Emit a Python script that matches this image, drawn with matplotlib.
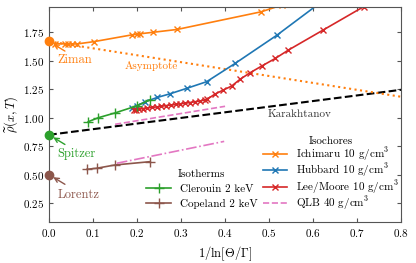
import numpy as np
import matplotlib; matplotlib.use("Agg")
import matplotlib.pyplot as plt

plt.rcParams.update({
    'font.family': 'serif', 'font.serif': ['cmr10'], 'mathtext.fontset': 'cm',
    'axes.formatter.use_mathtext': True, 'font.size': 8,
    'xtick.direction': 'in', 'ytick.direction': 'in', 'xtick.top': True, 'ytick.right': True,
    'axes.edgecolor': '#555555', 'xtick.color': '#555555', 'ytick.color': '#555555',
    'xtick.labelcolor': 'black', 'ytick.labelcolor': 'black',
})

# isochores, 10 g/cm^3
ichimaru_x = [0.014, 0.036, 0.043, 0.052, 0.064, 0.102, 0.189, 0.200, 0.207, 0.236, 0.291, 0.482, 0.53]
ichimaru_y = [1.650, 1.648, 1.648, 1.647, 1.648, 1.668, 1.728, 1.733, 1.737, 1.750, 1.775, 1.930, 1.99]
hubbard_x = [0.188, 0.200, 0.218, 0.246, 0.275, 0.313, 0.358, 0.423, 0.518, 0.62]
hubbard_y = [1.085, 1.105, 1.140, 1.178, 1.210, 1.258, 1.316, 1.477, 1.725, 2.02]
lee_x = [0.192, 0.197, 0.204, 0.213, 0.222, 0.234, 0.245, 0.254, 0.266, 0.277, 0.289,
         0.298, 0.309, 0.320, 0.332, 0.343, 0.354, 0.360, 0.377, 0.396, 0.415, 0.434,
         0.457, 0.483, 0.514, 0.544, 0.623, 0.715]
lee_y = [1.068, 1.072, 1.076, 1.080, 1.085, 1.090, 1.095, 1.100, 1.106, 1.111, 1.117,
         1.122, 1.127, 1.133, 1.140, 1.147, 1.156, 1.164, 1.207, 1.243, 1.278, 1.337,
         1.395, 1.453, 1.520, 1.594, 1.770, 1.975]
qlb40_x = [0.15, 0.40]
qlb40_y = [0.942, 1.100]

# isotherms, 2 keV
clerouin_x = [0.089, 0.112, 0.150, 0.200, 0.230]
clerouin_y = [0.965, 1.000, 1.042, 1.105, 1.158]
copeland_x = [0.086, 0.108, 0.150, 0.230]
copeland_y = [0.547, 0.556, 0.585, 0.614]
qlb2_x = [0.154, 0.398]
qlb2_y = [0.600, 0.792]

# limits
karak_x = [0.0, 0.8]
karak_y = [0.85, 1.245]
asym_x = [0.0, 0.8]
asym_y = [1.67, 1.184]
ziman, spitzer, lorentz = 1.67, 0.85, 0.50

C = {'orange': '#ff7f0e', 'blue': '#1f77b4', 'red': '#d62728', 'green': '#2ca02c',
     'brown': '#8c564b', 'pink': '#e377c2'}

fig = plt.figure(figsize=(4.16, 2.63), dpi=100)
ax = fig.add_axes([0.118, 0.155, 0.846, 0.817])

ax.plot(karak_x, karak_y, '--', color='k', lw=1.5)
ax.plot(asym_x, asym_y, ':', color=C['orange'], lw=1.5)

h_ich, = ax.plot(ichimaru_x, ichimaru_y, '-x', color=C['orange'], lw=1.2, ms=5, label='Ichimaru 10 g/cm$^3$')
h_hub, = ax.plot(hubbard_x, hubbard_y, '-x', color=C['blue'], lw=1.2, ms=5, label='Hubbard 10 g/cm$^3$')
h_lee, = ax.plot(lee_x, lee_y, '-x', color=C['red'], lw=1.2, ms=5, label='Lee/Moore 10 g/cm$^3$')
h_qlb, = ax.plot(qlb40_x, qlb40_y, '--', color=C['pink'], lw=1.2, label='QLB 40 g/cm$^3$')
h_cl, = ax.plot(clerouin_x, clerouin_y, '-+', color=C['green'], lw=1.2, ms=7, mew=1.0, label='Clerouin 2 keV')
h_co, = ax.plot(copeland_x, copeland_y, '-+', color=C['brown'], lw=1.2, ms=7, mew=1.0, label='Copeland 2 keV')
ax.plot(qlb2_x, qlb2_y, '-.', color=C['pink'], lw=1.2)

for val, name, col, ty in [(ziman, 'Ziman', C['orange'], 1.51),
                           (spitzer, 'Spitzer', C['green'], 0.68),
                           (lorentz, 'Lorentz', C['brown'], 0.32)]:
    ax.plot([0], [val], 'o', color=col, ms=6, clip_on=False, zorder=5)
    ax.annotate('', xy=(0.004, val - 0.01), xytext=(0.036, val - 0.085),
                arrowprops=dict(arrowstyle='->', color=col, lw=1.0, shrinkA=0, shrinkB=2))
    ax.text(0.019, ty, name, color=col, fontsize=9, va='center', ha='left')

ax.text(0.232, 1.456, 'Asymptote', color=C['orange'], fontsize=8, ha='center', va='center')
ax.text(0.57, 1.03, 'Karakhtanov', color='#333333', fontsize=8, ha='center', va='center')

leg1 = ax.legend(handles=[h_cl, h_co], title='Isotherms', loc='lower left',
                 bbox_to_anchor=(0.27, 0.05), frameon=False, fontsize=8, title_fontsize=8,
                 handlelength=2.2, labelspacing=0.45, borderpad=0.2, borderaxespad=0)
ax.add_artist(leg1)
ax.legend(handles=[h_ich, h_hub, h_lee, h_qlb], title='Isochores', loc='lower right',
          bbox_to_anchor=(1.0, 0.035), frameon=False, fontsize=8, title_fontsize=8,
          handlelength=2.2, labelspacing=-0.1, borderpad=0.2, borderaxespad=0)

ax.set_xlim(0, 0.8)
ax.set_ylim(0.082, 1.969)
ax.set_xticks(np.arange(0, 0.81, 0.1))
ax.set_yticks([0.25, 0.5, 0.75, 1.0, 1.25, 1.5, 1.75])
ax.set_xlabel(r'$1/\ln[\Theta/\Gamma]$', fontsize=9)
ax.set_ylabel(r'$\widetilde{\rho}(x,T)$', fontsize=9, labelpad=2)
ax.tick_params(length=3, width=0.8)

fig.savefig('out.png', dpi=100)
